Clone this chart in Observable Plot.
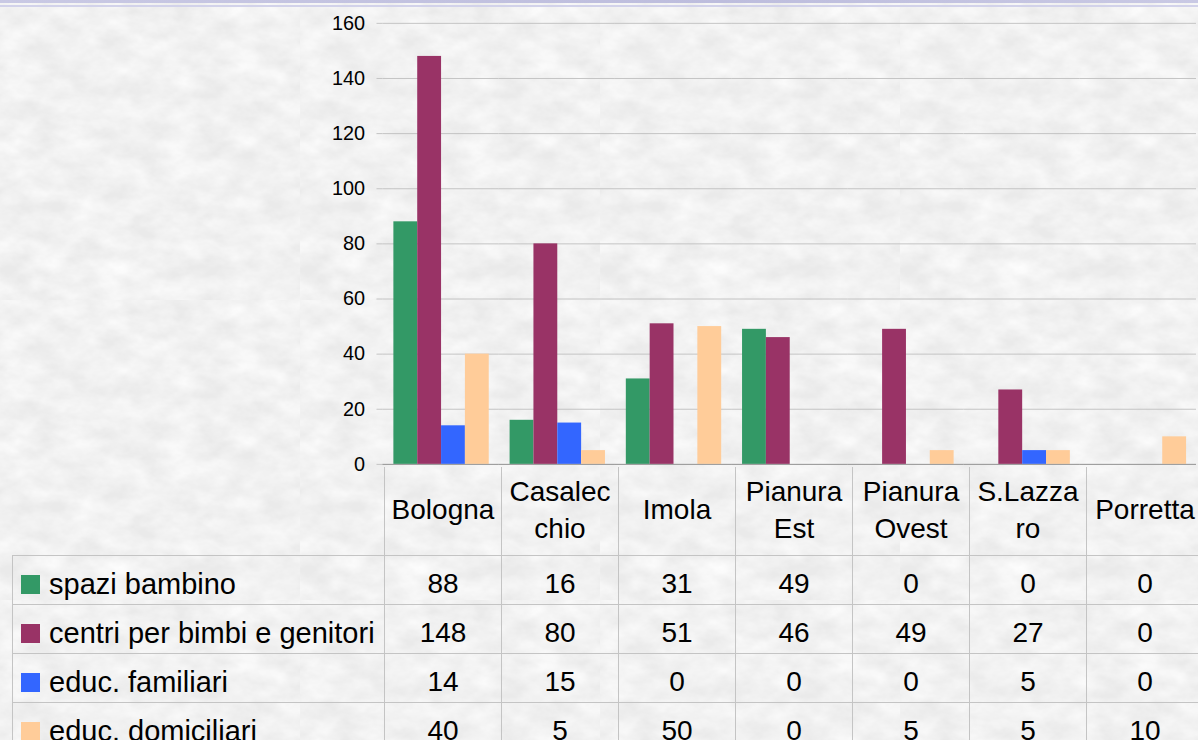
<!DOCTYPE html>
<html>
<head>
<meta charset="utf-8">
<script src="https://cdn.jsdelivr.net/npm/d3@7"></script>
<script src="https://cdn.jsdelivr.net/npm/@observablehq/plot@0.6"></script>
<style>
  html, body { margin: 0; padding: 0; overflow: hidden; width: 1198px; height: 740px; }
  body {
    background-color: #eaeaea;
    background-image: url("data:image/svg+xml,%3Csvg xmlns='http://www.w3.org/2000/svg' width='300' height='300'%3E%3Cfilter id='n'%3E%3CfeTurbulence type='fractalNoise' baseFrequency='0.03 0.05' numOctaves='4' seed='7' stitchTiles='stitch'/%3E%3CfeColorMatrix values='0 0 0 0 1 0 0 0 0 1 0 0 0 0 1 1.3 0 0 0 -0.3'/%3E%3C/filter%3E%3Crect width='100%25' height='100%25' filter='url(%23n)'/%3E%3C/svg%3E");
    font-family: "Liberation Sans", Arial, sans-serif; color: #000; position: relative;
  }
  #topband { position: absolute; left: 0; top: 0; width: 1198px; height: 3px; background: linear-gradient(90deg, #c9c9e4, #bdbddd 60%, #c9c9e4); }
  #topline { position: absolute; left: 0; top: 5px; width: 1198px; height: 2px; background: #d2d2ea; }
  #chart { position: absolute; left: 0; top: 0; }
  #chart svg { overflow: visible; display: block; }
  #tbl { position: absolute; left: 12px; top: 467px; border-collapse: collapse; table-layout: fixed; font-size: 28px; font-family: "Liberation Sans", Arial, sans-serif; }
  #tbl td { border: 1px solid #c4c4c4; padding: 0; text-align: center; white-space: nowrap; box-sizing: border-box; }
  #tbl tr.head td { height: 88px; line-height: 36.6px; vertical-align: middle; white-space: pre-line; border-top: none; }
  #tbl tr.head td.corner { border-left: none; }
  #tbl tr.row td { height: 48px; line-height: 40px; padding-top: 8px; vertical-align: top; }
  #tbl td.name { text-align: left; padding-left: 8px; font-size: 29px; }
  .sw { display: inline-block; width: 19px; height: 19px; margin-right: 9px; vertical-align: baseline; }
</style>
</head>
<body>
<div id="topband"></div>
<div id="topline"></div>
<div id="chart"></div>
<table id="tbl"></table>
<script>
const categories = ["Bologna", "Casalecchio", "Imola", "Pianura Est", "Pianura Ovest", "S.Lazzaro", "Porretta"];
const categoryLabels = ["Bologna", "Casalec\nchio", "Imola", "Pianura\nEst", "Pianura\nOvest", "S.Lazza\nro", "Porretta"];
const seriesNames = ["spazi bambino", "centri per bimbi e genitori", "educ. familiari", "educ. domiciliari"];
const seriesColors = ["#339966", "#993366", "#3366ff", "#ffcc99"];
const spaziBambino = [88, 16, 31, 49, 0, 0, 0];
const centriBimbiGenitori = [148, 80, 51, 46, 49, 27, 0];
const educFamiliari = [14, 15, 0, 0, 0, 5, 0];
const educDomiciliari = [40, 5, 50, 0, 5, 5, 10];
const yTicks = [0, 20, 40, 60, 80, 100, 120, 140, 160];

const seriesValues = [spaziBambino, centriBimbiGenitori, educFamiliari, educDomiciliari];
const data = categories.flatMap((c, i) =>
  seriesNames.map((s, j) => ({cat: c, series: s, value: seriesValues[j][i]}))
);

const chart = Plot.plot({
  width: 1206,
  height: 468,
  marginLeft: 384,
  marginRight: 1,
  marginTop: 23,
  marginBottom: 1,
  style: {background: "transparent", color: "black", fontFamily: "'Liberation Sans', Arial, sans-serif", fontSize: "20px", overflow: "visible"},
  fx: {domain: categories, padding: 0, axis: null, label: null},
  x: {domain: seriesNames, paddingInner: 0, paddingOuter: 0.43, axis: null},
  y: {domain: [0, 160], axis: null},
  color: {domain: seriesNames, range: seriesColors},
  marks: [
    Plot.gridY(yTicks, {stroke: "#c4c4c4", strokeOpacity: 1}),
    Plot.axisY(yTicks, {tickSize: 6, tickPadding: 12, stroke: "#c4c4c4", fill: "black", fontSize: 20, line: true, label: null, tickFormat: d3.format("d")}),
    Plot.barY(data, {fx: "cat", x: "series", y: "value", fill: "series"}),
    Plot.ruleY([0], {stroke: "#9a9a9a"})
  ]
});
document.getElementById("chart").appendChild(chart);

// data table aligned with the fx bands
const fx = chart.scale("fx");
const step = fx.step;
const left = fx.range[0];
const tbl = document.getElementById("tbl");
const colgroup = document.createElement("colgroup");
const c0 = document.createElement("col");
c0.style.width = (left - 12) + "px";
colgroup.appendChild(c0);
categories.forEach(() => {
  const c = document.createElement("col");
  c.style.width = step + "px";
  colgroup.appendChild(c);
});
tbl.appendChild(colgroup);
tbl.style.width = (left - 12 + step * categories.length) + "px";

const head = document.createElement("tr");
head.className = "head";
const corner = document.createElement("td");
corner.className = "corner";
head.appendChild(corner);
categoryLabels.forEach(l => {
  const td = document.createElement("td");
  td.textContent = l;
  head.appendChild(td);
});
tbl.appendChild(head);

seriesNames.forEach((s, j) => {
  const tr = document.createElement("tr");
  tr.className = "row";
  const name = document.createElement("td");
  name.className = "name";
  const sw = document.createElement("span");
  sw.className = "sw";
  sw.style.background = seriesColors[j];
  name.appendChild(sw);
  name.appendChild(document.createTextNode(s));
  tr.appendChild(name);
  seriesValues[j].forEach(v => {
    const td = document.createElement("td");
    td.textContent = v;
    tr.appendChild(td);
  });
  tbl.appendChild(tr);
});
</script>
</body>
</html>
